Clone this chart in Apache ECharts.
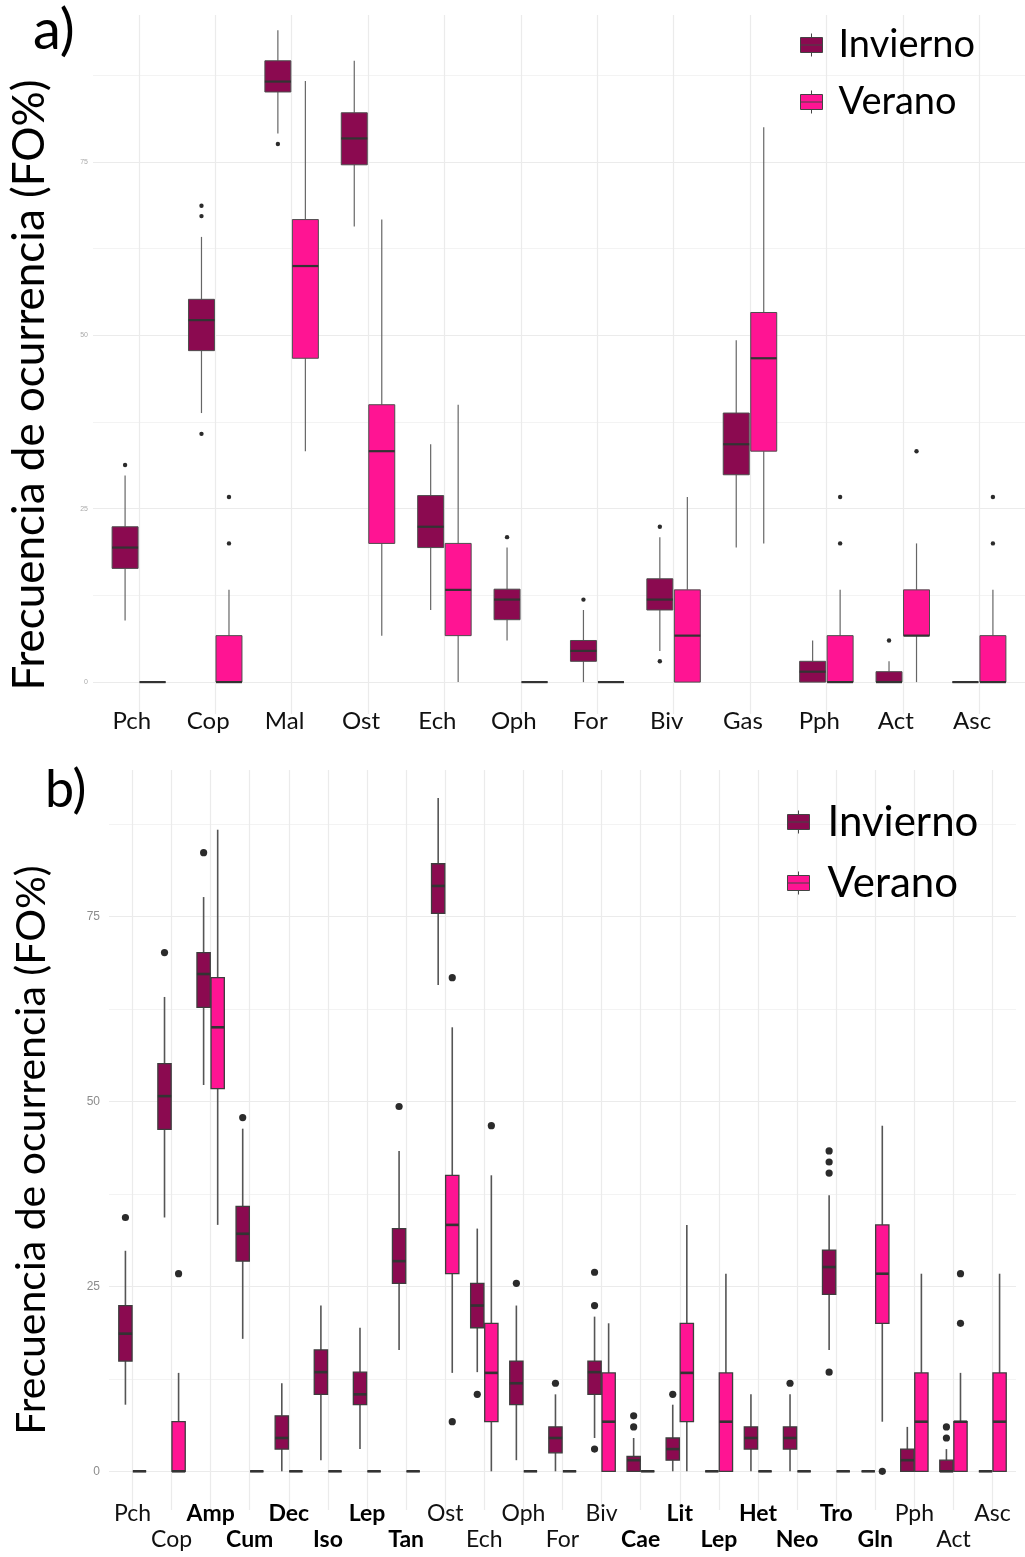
<!DOCTYPE html>
<html>
<head>
<meta charset="utf-8">
<script src="https://cdn.jsdelivr.net/npm/echarts@6/dist/echarts.min.js"></script>
<style>
  html, body { margin: 0; padding: 0; background: #ffffff; }
  #chart { width: 1025px; height: 1557px; }
</style>
</head>
<body>
<div id="chart"></div>
<script>
// ---------- Panel a: broad prey groups ----------
const catsA = ['Pch', 'Cop', 'Mal', 'Ost', 'Ech', 'Oph', 'For', 'Biv', 'Gas', 'Pph', 'Act', 'Asc'];

// [min, Q1, median, Q3, max] per category
const invA = [
  [8.9, 16.4, 19.4, 22.4, 29.8],
  [38.8, 47.8, 52.2, 55.2, 64.2],
  [79.1, 85.1, 86.6, 89.6, 94.0],
  [65.7, 74.6, 78.4, 82.1, 89.6],
  [10.4, 19.4, 22.4, 26.9, 34.3],
  [6.0, 9.0, 11.9, 13.4, 19.4],
  [0, 3.0, 4.5, 6.0, 10.4],
  [4.5, 10.4, 11.9, 14.9, 20.9],
  [19.4, 29.9, 34.3, 38.8, 49.3],
  [0, 0, 1.5, 3.0, 6.0],
  [0, 0, 0, 1.5, 3.0],
  [0, 0, 0, 0, 0]
];
const verA = [
  [0, 0, 0, 0, 0],
  [0, 0, 0, 6.7, 13.3],
  [33.3, 46.7, 60, 66.7, 86.7],
  [6.7, 20, 33.3, 40, 66.7],
  [0, 6.7, 13.3, 20, 40],
  [0, 0, 0, 0, 0],
  [0, 0, 0, 0, 0],
  [0, 0, 6.7, 13.3, 26.7],
  [20, 33.3, 46.7, 53.3, 80],
  [0, 0, 0, 6.7, 13.3],
  [0, 6.7, 6.7, 13.3, 20],
  [0, 0, 0, 6.7, 13.3]
];
// outliers: [category index, value]
const invAOut = [[0, 31.3], [1, 35.8], [1, 67.2], [1, 68.7], [2, 77.6], [5, 20.9], [6, 11.9], [7, 3.0], [7, 22.4], [10, 6.0]];
const verAOut = [[1, 20], [1, 26.7], [9, 20], [9, 26.7], [10, 33.3], [11, 20], [11, 26.7]];

// ---------- Panel b: detailed prey groups ----------
const catsB = ['Pch', 'Cop', 'Amp', 'Cum', 'Dec', 'Iso', 'Lep', 'Tan', 'Ost', 'Ech', 'Oph', 'For',
               'Biv', 'Cae', 'Lit', 'Lep', 'Het', 'Neo', 'Tro', 'Gln', 'Pph', 'Act', 'Asc'];
const invB = [
  [9.0, 14.9, 18.6, 22.4, 29.8],
  [34.3, 46.2, 50.7, 55.1, 64.1],
  [52.2, 62.7, 67.2, 70.1, 77.6],
  [17.9, 28.4, 32.1, 35.8, 46.3],
  [0, 3.0, 4.5, 7.5, 11.9],
  [1.5, 10.4, 13.4, 16.4, 22.4],
  [3.0, 9.0, 10.4, 13.4, 19.4],
  [16.4, 25.4, 28.4, 32.8, 43.3],
  [65.7, 75.4, 79.1, 82.1, 91.0],
  [13.4, 19.4, 22.4, 25.4, 32.8],
  [1.5, 9.0, 11.9, 14.9, 22.4],
  [0, 2.5, 4.5, 6.0, 10.4],
  [4.5, 10.4, 13.4, 14.9, 20.9],
  [0, 0, 1.5, 2.0, 4.5],
  [0, 1.5, 3.0, 4.5, 9.0],
  [0, 0, 0, 0, 0],
  [0, 3.0, 4.5, 6.0, 10.4],
  [0, 3.0, 4.5, 6.0, 10.4],
  [16.4, 23.9, 27.6, 29.9, 37.3],
  [0, 0, 0, 0, 0],
  [0, 0, 1.5, 3.0, 6.0],
  [0, 0, 0, 1.5, 3.0],
  [0, 0, 0, 0, 0]
];
const verB = [
  [0, 0, 0, 0, 0],
  [0, 0, 0, 6.7, 13.3],
  [33.3, 51.7, 60, 66.7, 86.7],
  [0, 0, 0, 0, 0],
  [0, 0, 0, 0, 0],
  [0, 0, 0, 0, 0],
  [0, 0, 0, 0, 0],
  [0, 0, 0, 0, 0],
  [13.3, 26.7, 33.3, 40, 60],
  [0, 6.7, 13.3, 20, 40],
  [0, 0, 0, 0, 0],
  [0, 0, 0, 0, 0],
  [0, 0, 6.7, 13.3, 20],
  [0, 0, 0, 0, 0],
  [0, 6.7, 13.3, 20, 33.3],
  [0, 0, 6.7, 13.3, 26.7],
  [0, 0, 0, 0, 0],
  [0, 0, 0, 0, 0],
  [0, 0, 0, 0, 0],
  [6.7, 20, 26.7, 33.3, 46.7],
  [0, 0, 6.7, 13.3, 26.7],
  [0, 0, 6.7, 6.7, 13.3],
  [0, 0, 6.7, 13.3, 26.7]
];
const invBOut = [[0, 34.3], [1, 70.1], [2, 83.6], [3, 47.8], [7, 49.3], [9, 10.4], [10, 25.4], [11, 11.9],
                 [12, 3.0], [12, 22.4], [12, 26.9], [13, 6.0], [13, 7.5], [14, 10.4], [17, 11.9],
                 [18, 13.4], [18, 40.3], [18, 41.8], [18, 43.3], [21, 4.5], [21, 6.0]];
const verBOut = [[1, 26.7], [8, 6.7], [8, 66.7], [9, 46.7], [19, 0], [21, 20], [21, 26.7]];

// y-axis ticks and minor grid positions
const yTicks = [0, 25, 50, 75];
const yMinor = [12.5, 37.5, 62.5, 87.5];

// groups in panel b that are only resolved at this finer level (shown in bold)
const boldB = new Set([2, 3, 4, 5, 6, 7, 13, 14, 15, 16, 17, 18, 19]);

const COL_INV = '#8B0A50';
const COL_VER = '#FF1493';
const FONT = 'Lato, "Open Sans", sans-serif';

// box + whisker drawn around a dodged category position
function boxRender(offset, fill, st) {
  return function (params, api) {
    const i = api.value(0);
    const band = api.size([1, 0])[0];
    const hw = band * 0.17;
    const cx = api.coord([i + offset, 0])[0];
    const y = k => api.coord([i, api.value(k)])[1];
    const yMin = y(1), yQ1 = y(2), yMed = y(3), yQ3 = y(4), yMax = y(5);
    return {
      type: 'group',
      children: [
        { type: 'line', shape: { x1: cx, y1: yQ3, x2: cx, y2: yMax },
          style: { stroke: st.whisker, lineWidth: st.whiskerW } },
        { type: 'line', shape: { x1: cx, y1: yQ1, x2: cx, y2: yMin },
          style: { stroke: st.whisker, lineWidth: st.whiskerW } },
        { type: 'rect', shape: { x: cx - hw, y: yQ3, width: 2 * hw, height: yQ1 - yQ3 },
          style: { fill: fill, stroke: st.border, lineWidth: st.borderW } },
        { type: 'line', shape: { x1: cx - hw, y1: yMed, x2: cx + hw, y2: yMed },
          style: { stroke: '#333333', lineWidth: st.medianW } }
      ]
    };
  };
}

function outlierRender(offset, r) {
  return function (params, api) {
    const p = api.coord([api.value(0) + offset, api.value(1)]);
    return { type: 'circle', shape: { cx: p[0], cy: p[1], r: r }, style: { fill: '#2b2b2b' } };
  };
}

// background grid: major/minor horizontals and one vertical per category
function gridSeries(idx, n) {
  const lines = [];
  yTicks.forEach(v => lines.push({ yAxis: v, lineStyle: { color: '#ebebeb', width: 1.2, type: 'solid' } }));
  yMinor.forEach(v => lines.push({ yAxis: v, lineStyle: { color: '#f3f3f3', width: 1, type: 'solid' } }));
  for (let i = 0; i < n; i++) {
    lines.push({ xAxis: i, lineStyle: { color: '#ebebeb', width: 1.2, type: 'solid' } });
  }
  return {
    type: 'line', xAxisIndex: idx, yAxisIndex: idx, data: [], silent: true, z: 0,
    markLine: { silent: true, z: 0, symbol: ['none', 'none'], label: { show: false }, animation: false, data: lines }
  };
}

function panelSeries(idx, inv, ver, invOut, verOut, st) {
  const off = 0.18;
  return [
    gridSeries(idx, inv.length),
    { name: 'Invierno', type: 'custom', xAxisIndex: idx, yAxisIndex: idx, z: 6,
      itemStyle: { color: COL_INV },
      data: inv.map((d, i) => [i].concat(d)), encode: { x: 0, y: [1, 2, 3, 4, 5] },
      renderItem: boxRender(-off, COL_INV, st) },
    { name: 'Verano', type: 'custom', xAxisIndex: idx, yAxisIndex: idx, z: 6,
      itemStyle: { color: COL_VER },
      data: ver.map((d, i) => [i].concat(d)), encode: { x: 0, y: [1, 2, 3, 4, 5] },
      renderItem: boxRender(off, COL_VER, st) },
    { name: 'Invierno', type: 'custom', xAxisIndex: idx, yAxisIndex: idx, z: 7,
      itemStyle: { color: COL_INV },
      data: invOut, encode: { x: 0, y: 1 }, renderItem: outlierRender(-off, st.dot) },
    { name: 'Verano', type: 'custom', xAxisIndex: idx, yAxisIndex: idx, z: 7,
      itemStyle: { color: COL_VER },
      data: verOut, encode: { x: 0, y: 1 }, renderItem: outlierRender(off, st.dot) }
  ];
}

const styleA = { whisker: '#666666', whiskerW: 1.2, border: '#4d4d4d', borderW: 1, medianW: 2.2, dot: 2.2 };
const styleB = { whisker: '#555555', whiskerW: 1.6, border: '#3d3d3d', borderW: 1.3, medianW: 2.6, dot: 3.6 };

const legendIcon = 'path://M11,0L11,4M0,4L22,4L22,19L0,19ZM0,11.5L22,11.5M11,19L11,23';
function legendOf(left, top, size, pad) {
  return {
    orient: 'vertical', left: left, top: top, padding: 0, itemGap: 19, z: 10,
    itemWidth: 22, itemHeight: 23, selectedMode: false,
    textStyle: { fontFamily: FONT, fontSize: size, color: '#000000', padding: [0, 0, 0, pad] },
    data: [
      { name: 'Invierno', icon: legendIcon, itemStyle: { color: COL_INV, borderColor: '#444444', borderWidth: 1 } },
      { name: 'Verano', icon: legendIcon, itemStyle: { color: COL_VER, borderColor: '#444444', borderWidth: 1 } }
    ]
  };
}

const chart = echarts.init(document.getElementById('chart'), null, { renderer: 'canvas' });

chart.setOption({
  animation: false,
  backgroundColor: '#ffffff',
  grid: [
    { left: 93, top: 15, width: 937, height: 699 },
    { left: 109, top: 770, width: 907, height: 740 }
  ],
  xAxis: [
    { type: 'value', gridIndex: 0, min: -0.6, max: catsA.length - 0.4,
      axisLine: { show: false }, axisTick: { show: false }, splitLine: { show: false },
      axisLabel: {
        customValues: catsA.map((c, i) => i),
        formatter: v => catsA[v] || '',
        fontFamily: FONT, fontSize: 24, color: '#111111', margin: -5,
        padding: [0, 14, 0, 0]
      } },
    { type: 'value', gridIndex: 1, min: -0.6, max: catsB.length - 0.4,
      axisLine: { show: false }, axisTick: { show: false }, splitLine: { show: false },
      axisLabel: {
        customValues: catsB.map((c, i) => i),
        formatter: v => {
          const name = catsB[v];
          if (name === undefined) return '';
          const key = boldB.has(v) ? 'b' : 'n';
          return (v % 2 ? '\n' : '') + '{' + key + '|' + name + '}';
        },
        lineHeight: 26, margin: -9, fontFamily: FONT, fontSize: 23, color: '#111111',
        rich: {
          n: { fontFamily: FONT, fontSize: 23, color: '#111111', lineHeight: 26 },
          b: { fontFamily: FONT, fontSize: 23, fontWeight: 'bold', color: '#000000', lineHeight: 26 }
        }
      } }
  ],
  yAxis: [
    { type: 'value', gridIndex: 0, min: -4.6, max: 96.2,
      axisLine: { show: false }, axisTick: { show: false }, splitLine: { show: false },
      axisLabel: { customValues: yTicks, fontFamily: 'Liberation Sans, Arial, sans-serif',
                   fontSize: 7, color: '#aaaaaa', margin: 5 } },
    { type: 'value', gridIndex: 1, min: -5.23, max: 94.77,
      axisLine: { show: false }, axisTick: { show: false }, splitLine: { show: false },
      axisLabel: { customValues: yTicks, fontFamily: 'Liberation Sans, Arial, sans-serif',
                   fontSize: 12, color: '#8c8c8c', margin: 9 } }
  ],
  legend: [legendOf(800, 26, 38, 11), legendOf(787, 801, 42, 13)],
  graphic: [
    { type: 'text', x: 30, y: 385, rotation: Math.PI / 2, silent: true, z: 10,
      style: { text: 'Frecuencia de ocurrencia (FO%)', font: '44px ' + FONT, fill: '#000000',
               textAlign: 'center', textVerticalAlign: 'middle', align: 'center', verticalAlign: 'middle' } },
    { type: 'text', x: 32, y: 1150, rotation: Math.PI / 2, silent: true, z: 10,
      style: { text: 'Frecuencia de ocurrencia (FO%)', font: '41px ' + FONT, fill: '#000000',
               textAlign: 'center', textVerticalAlign: 'middle', align: 'center', verticalAlign: 'middle' } },
    { type: 'text', x: 33, y: 31, silent: true, z: 10,
      style: { text: 'a)', font: '56px ' + FONT, fill: '#000000',
               textAlign: 'left', textVerticalAlign: 'middle', align: 'left', verticalAlign: 'middle' } },
    { type: 'text', x: 45, y: 790, silent: true, z: 10,
      style: { text: 'b)', font: '52px ' + FONT, fill: '#000000',
               textAlign: 'left', textVerticalAlign: 'middle', align: 'left', verticalAlign: 'middle' } }
  ],
  series: []
    .concat(panelSeries(0, invA, verA, invAOut, verAOut, styleA))
    .concat(panelSeries(1, invB, verB, invBOut, verBOut, styleB))
});
</script>
</body>
</html>
